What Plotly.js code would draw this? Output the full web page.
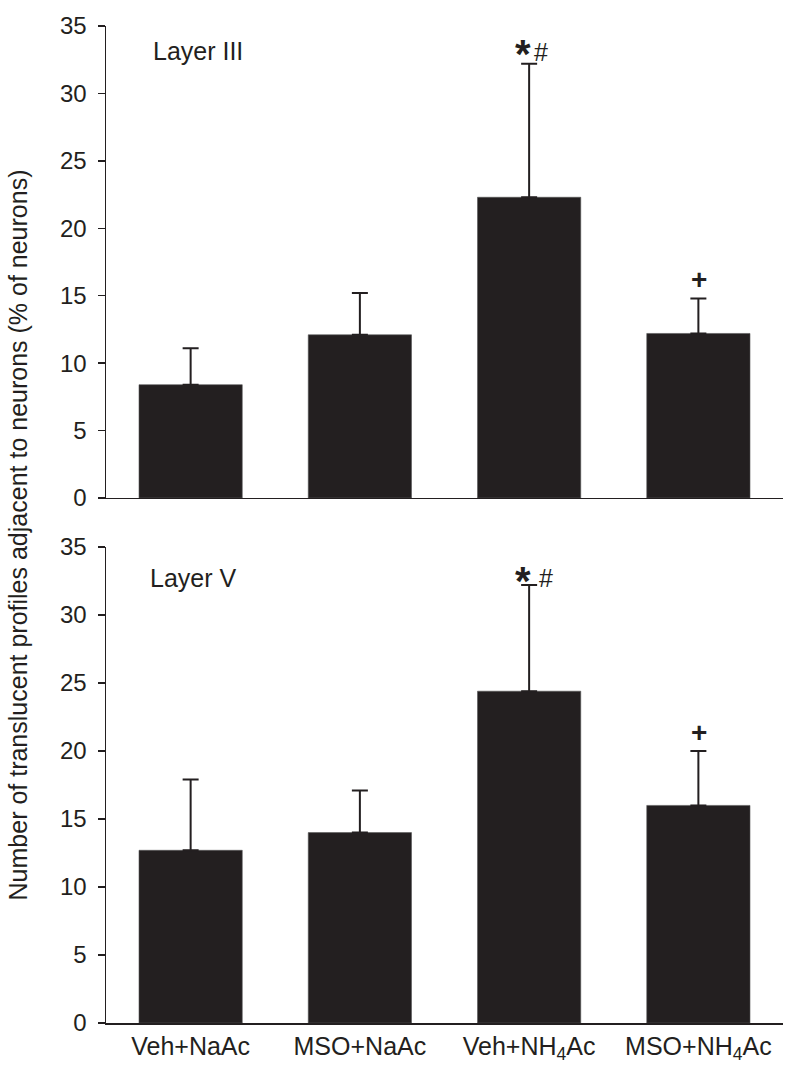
<!DOCTYPE html>
<html>
<head>
<meta charset="utf-8">
<script src="https://cdn.plot.ly/plotly-3.0.1.min.js"></script>
<style>html,body{margin:0;padding:0;background:#fff;}#chart{width:797px;height:1083px;}</style>
</head>
<body>
<div id="chart"></div>
<script>
// ---- data ----
const categories = ['Veh+NaAc', 'MSO+NaAc', 'Veh+NH<sub>4</sub>Ac', 'MSO+NH<sub>4</sub>Ac'];
const layer3Mean = [8.4, 12.1, 22.3, 12.2];
const layer3Err  = [2.7, 3.1, 9.9, 2.6];
const layer5Mean = [12.7, 14.0, 24.4, 16.0];
const layer5Err  = [5.2, 3.1, 7.8, 4.0];
const yTicks = [0, 5, 10, 15, 20, 25, 30, 35];
const panelLabels = ['Layer III', 'Layer V'];
const yTitle = 'Number of translucent profiles adjacent to neurons (% of neurons)';

const ink = '#231f20';
const xIdx = categories.map((c, i) => i);

function barTrace(means, errs, xa, ya) {
  return {
    type: 'bar', x: xIdx, y: means, xaxis: xa, yaxis: ya,
    width: 0.61,
    marker: {color: ink, line: {color: '#555', width: 0.6}},
    error_y: {type: 'data', symmetric: false, array: errs, arrayminus: errs.map(() => 0),
              color: ink, thickness: 2, width: 8},
    hoverinfo: 'skip', showlegend: false
  };
}

const data = [
  barTrace(layer3Mean, layer3Err, 'x', 'y'),
  barTrace(layer5Mean, layer5Err, 'x2', 'y2')
];

const axisFont = {family: 'Liberation Sans, Arial, sans-serif', size: 24, color: ink};
function yAxis(domain, anchor) {
  return {
    domain: domain, anchor: anchor, range: [0, 35], tickvals: yTicks,
    ticks: 'outside', ticklen: 7, tickwidth: 1.5, tickcolor: ink,
    showline: true, linecolor: ink, linewidth: 1.5, showgrid: false, zeroline: false,
    tickfont: axisFont, ticklabelstandoff: 6, fixedrange: true
  };
}
function xAxis(anchor, showLabels) {
  return {
    anchor: anchor, range: [-0.5, 3.5], tickvals: xIdx, ticktext: categories,
    showticklabels: showLabels, ticks: '', showline: true, linecolor: ink, linewidth: 1.5,
    showgrid: false, zeroline: false,
    tickfont: {family: 'Liberation Sans, Arial, sans-serif', size: 25, color: ink},
    fixedrange: true
  };
}

function markAnn(xi, top, text, size, bold, xshift, yshift, xref, yref) {
  return {x: xi, y: top, xref: xref, yref: yref, text: bold ? '<b>' + text + '</b>' : text,
          showarrow: false, xshift: xshift, yshift: yshift,
          font: {family: 'Liberation Sans, Arial, sans-serif', size: size, color: ink}};
}

const annotations = [
  {text: panelLabels[0], xref: 'paper', yref: 'y domain', x: 0.0664, y: 0.947, xanchor: 'left', yanchor: 'middle',
   showarrow: false, font: {family: 'Liberation Sans, Arial, sans-serif', size: 25, color: ink}},
  {text: panelLabels[1], xref: 'paper', yref: 'y2 domain', x: 0.0620, y: 0.935, xanchor: 'left', yanchor: 'middle',
   showarrow: false, font: {family: 'Liberation Sans, Arial, sans-serif', size: 25, color: ink}},
  {text: yTitle, xref: 'paper', yref: 'paper', x: -0.13, y: 0.49, textangle: -90, showarrow: false,
   xanchor: 'center', yanchor: 'middle',
   font: {family: 'Liberation Sans, Arial, sans-serif', size: 25, color: ink}},
  // significance marks, anchored at error-bar tops
  markAnn(2, layer3Mean[2] + layer3Err[2], '*', 40, true, -6, 10, 'x', 'y'),
  markAnn(2, layer3Mean[2] + layer3Err[2], '#', 25, false, 12, 12, 'x', 'y'),
  markAnn(3, layer3Mean[3] + layer3Err[3], '+', 28, true, 1, 19, 'x', 'y'),
  markAnn(2, layer5Mean[2] + layer5Err[2], '*', 40, true, -6, 4, 'x2', 'y2'),
  markAnn(2, layer5Mean[2] + layer5Err[2], '#', 25, false, 17, 7, 'x2', 'y2'),
  markAnn(3, layer5Mean[3] + layer5Err[3], '+', 28, true, 1, 19, 'x2', 'y2')
];

const layout = {
  width: 797, height: 1083,
  margin: {l: 106, r: 14, t: 26, b: 60},
  paper_bgcolor: '#fff', plot_bgcolor: '#fff',
  bargap: 0.39,
  xaxis: xAxis('y', false),
  yaxis: yAxis([0.5266, 1], 'x'),
  xaxis2: xAxis('y2', true),
  yaxis2: yAxis([0, 0.4774], 'x2'),
  annotations: annotations,
  showlegend: false
};

Plotly.newPlot('chart', data, layout, {displayModeBar: false, staticPlot: true});
</script>
</body>
</html>
